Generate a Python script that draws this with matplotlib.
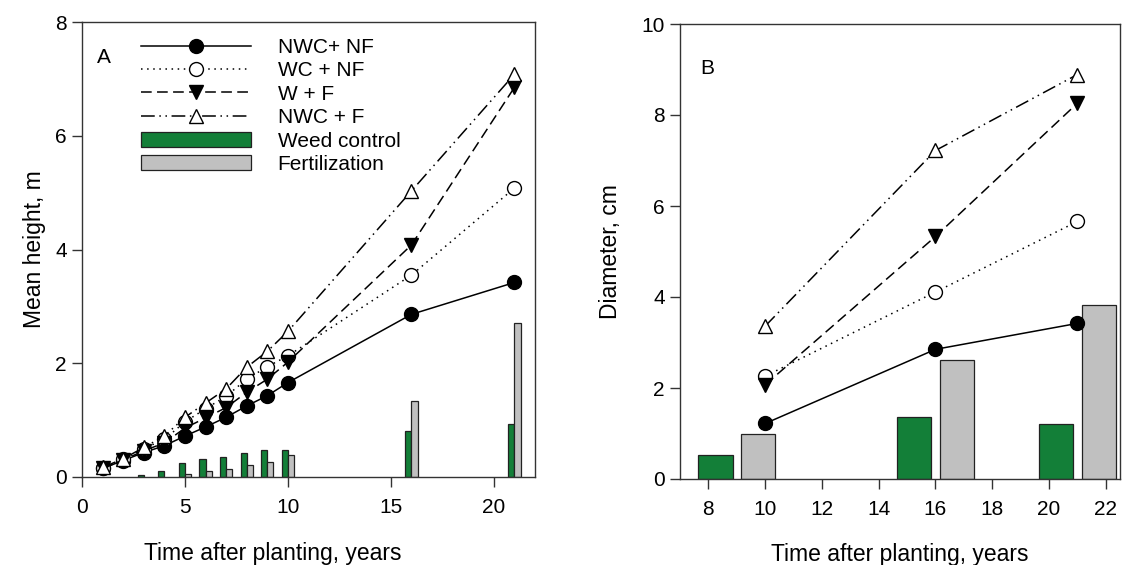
import matplotlib
matplotlib.use("Agg")
import matplotlib.pyplot as plt
from matplotlib.patches import Patch
from matplotlib.lines import Line2D

plt.rcParams['font.family'] = ['Liberation Sans', 'DejaVu Sans']

# ---- Panel A data ----
years_a = [1, 2, 3, 4, 5, 6, 7, 8, 9, 10, 16, 21]
nwc_nf_a = [0.15, 0.29, 0.43, 0.55, 0.72, 0.88, 1.05, 1.25, 1.43, 1.66, 2.86, 3.42]
wc_nf_a = [0.16, 0.31, 0.50, 0.66, 0.97, 1.20, 1.42, 1.72, 1.94, 2.13, 3.55, 5.08]
w_f_a = [0.15, 0.30, 0.46, 0.60, 0.86, 1.04, 1.22, 1.49, 1.72, 2.02, 4.08, 6.85]
nwc_f_a = [0.17, 0.32, 0.52, 0.72, 1.05, 1.30, 1.55, 1.93, 2.21, 2.56, 5.03, 7.08]

weed_years_a = [3, 4, 5, 6, 7, 8, 9, 10, 16, 21]
weed_a = [0.04, 0.11, 0.25, 0.31, 0.36, 0.43, 0.48, 0.48, 0.81, 0.93]
fert_years_a = [5, 6, 7, 8, 9, 10, 16, 21]
fert_a = [0.05, 0.10, 0.14, 0.21, 0.27, 0.39, 1.34, 2.70]

# ---- Panel B data ----
years_b = [10, 16, 21]
nwc_nf_b = [1.22, 2.85, 3.42]
wc_nf_b = [2.26, 4.11, 5.66]
w_f_b = [2.07, 5.33, 8.26]
nwc_f_b = [3.36, 7.22, 8.89]

bar_years_b = [9, 16, 21]
weed_b = [0.52, 1.37, 1.20]
fert_b = [0.99, 2.61, 3.82]

GREEN = '#137f38'
GRAY = '#c0c0c0'
SPINE = '#333333'
FS = 15

fig = plt.figure(figsize=(11.25, 5.65), dpi=100)
axA = fig.add_axes([82/1125, 1-477/565, 453/1125, 455/565])
axB = fig.add_axes([680/1125, 1-479/565, 440/1125, 455/565])

styles = dict(
    nwc_nf=dict(ls='-', marker='o', mfc='black', mec='black'),
    wc_nf=dict(ls=(0, (1, 3)), marker='o', mfc='white', mec='black'),
    w_f=dict(ls=(0, (7, 3.5)), marker='v', mfc='black', mec='black'),
    nwc_f=dict(ls=(0, (9, 3, 1, 3, 1, 3)), marker='^', mfc='white', mec='black'),
)
LW = 1.1
MS = 10

def draw_lines(ax, x, series):
    for key, y in series:
        st = styles[key]
        ax.plot(x, y, color='black', lw=LW, ls=st['ls'], marker=st['marker'],
                ms=MS, mfc=st['mfc'], mec=st['mec'], mew=1.0, zorder=3)

# Panel A bars
axA.bar(weed_years_a, weed_a, width=-0.3, align='edge', color=GREEN,
        edgecolor='#222222', lw=0.9, zorder=2)
axA.bar(fert_years_a, fert_a, width=0.3, align='edge', color=GRAY,
        edgecolor='#222222', lw=0.9, zorder=2)
draw_lines(axA, years_a, [('nwc_nf', nwc_nf_a), ('wc_nf', wc_nf_a),
                          ('w_f', w_f_a), ('nwc_f', nwc_f_a)])

# Panel B bars
axB.bar([b - 0.75 for b in bar_years_b], weed_b, width=1.2, color=GREEN,
        edgecolor='#222222', lw=0.9, zorder=2)
axB.bar([b + 0.75 for b in bar_years_b], fert_b, width=1.2, color=GRAY,
        edgecolor='#222222', lw=0.9, zorder=2)
draw_lines(axB, years_b, [('nwc_nf', nwc_nf_b), ('wc_nf', wc_nf_b),
                          ('w_f', w_f_b), ('nwc_f', nwc_f_b)])

axA.set_xlim(0, 22)
axA.set_ylim(0, 8)
axA.set_xticks([0, 5, 10, 15, 20])
axA.set_yticks([0, 2, 4, 6, 8])
axB.set_xlim(7, 22.5)
axB.set_ylim(0, 10)
axB.set_xticks([8, 10, 12, 14, 16, 18, 20, 22])
axB.set_yticks([0, 2, 4, 6, 8, 10])

for ax in (axA, axB):
    for s in ax.spines.values():
        s.set_color(SPINE)
        s.set_linewidth(1.0)
    ax.tick_params(direction='out', length=7, width=1.0, color=SPINE,
                   labelsize=FS)
    ax.tick_params(axis='x', pad=8)
    ax.tick_params(axis='y', pad=4)

axA.set_xlabel('Time after planting, years', fontsize=16.5)
axA.xaxis.set_label_coords(0.42, -0.143)
axA.set_ylabel('Mean height, m', fontsize=16.5)
axA.yaxis.set_label_coords(-0.08, 0.5)
axB.set_xlabel('Time after planting, years', fontsize=16.5)
axB.xaxis.set_label_coords(0.5, -0.14)
axB.set_ylabel('Diameter, cm', fontsize=16.5)
axB.yaxis.set_label_coords(-0.132, 0.5)

axA.text(0.033, 0.923, 'A', transform=axA.transAxes, fontsize=FS,
         ha='left', va='center')
axB.text(0.045, 0.903, 'B', transform=axB.transAxes, fontsize=FS,
         ha='left', va='center')

handles = []
labels = ['NWC+ NF', 'WC + NF', 'W + F', 'NWC + F', 'Weed control', 'Fertilization']
for key in ['nwc_nf', 'wc_nf', 'w_f', 'nwc_f']:
    st = styles[key]
    handles.append(Line2D([], [], color='black', lw=LW, ls=st['ls'],
                          marker=st['marker'], ms=MS, mfc=st['mfc'],
                          mec=st['mec']))
handles.append(Patch(facecolor=GREEN, edgecolor='#222222', lw=0.9))
handles.append(Patch(facecolor=GRAY, edgecolor='#222222', lw=0.9))
leg = axA.legend(handles, labels, loc='upper left',
                 bbox_to_anchor=(0.112, 0.983), frameon=False, fontsize=FS,
                 handlelength=5.3, handleheight=0.75, handletextpad=1.25,
                 labelspacing=0.21, borderaxespad=0)

fig.savefig('out.png', dpi=100)
